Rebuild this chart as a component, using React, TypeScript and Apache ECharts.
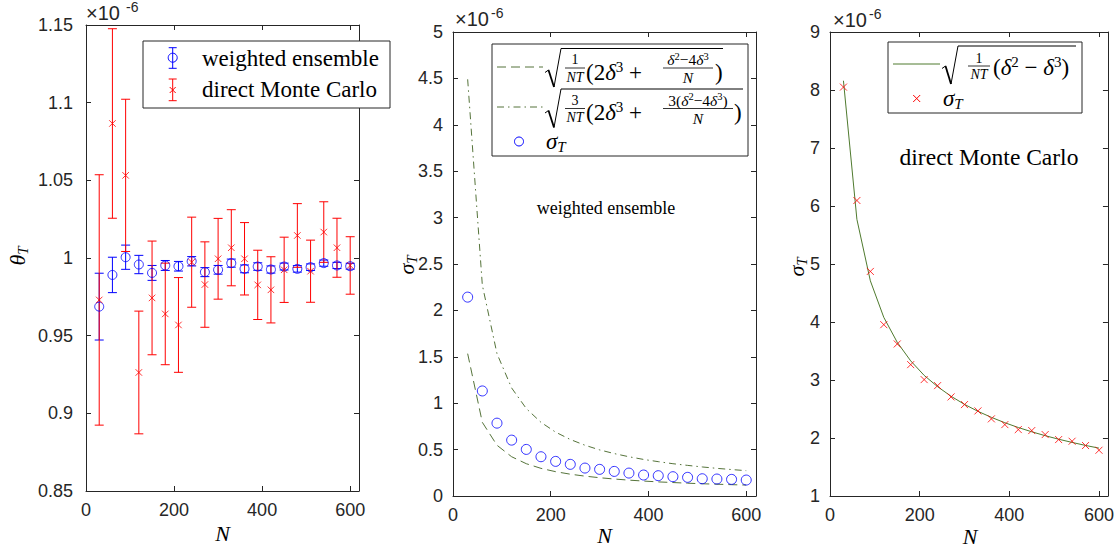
import React, { useEffect, useRef } from "react";
import * as echarts from "echarts";

// ---------- data (values shown in units of 1e-6) ----------
const N = [30, 60, 90, 120, 150, 180, 210, 240, 270, 300, 330, 360, 390, 420, 450, 480, 510, 540, 570, 600];
const xTicks = [0, 200, 400, 600];
const thetaTicks = [0.85, 0.9, 0.95, 1, 1.05, 1.1, 1.15];
const sigmaWETicks = [0, 0.5, 1, 1.5, 2, 2.5, 3, 3.5, 4, 4.5, 5];
const sigmaMCTicks = [1, 2, 3, 4, 5, 6, 7, 8, 9];

// left panel: theta_T estimates with error bars
const weMean = [0.9687, 0.9891, 1.0005, 0.9958, 0.9904, 0.9952, 0.9947, 0.9979, 0.9909, 0.9924, 0.9967, 0.993, 0.9945, 0.9926, 0.9945, 0.993, 0.9941, 0.9967, 0.9952, 0.9947];
const weErr = [0.0215, 0.0114, 0.0078, 0.0059, 0.0048, 0.0032, 0.0031, 0.003, 0.0029, 0.0028, 0.0026, 0.0025, 0.0024, 0.0023, 0.0022, 0.0021, 0.0021, 0.002, 0.002, 0.0019];
const mcMean = [0.973, 1.0866, 1.0532, 0.9263, 0.9743, 0.964, 0.9569, 0.9973, 0.9829, 0.9995, 1.0066, 0.9995, 0.9827, 0.9795, 0.9924, 1.0145, 0.9915, 1.0167, 1.0066, 0.9952];
const mcErr = [0.0806, 0.061, 0.049, 0.0395, 0.0366, 0.0327, 0.0305, 0.029, 0.0275, 0.026, 0.0245, 0.0233, 0.0223, 0.0213, 0.021, 0.0205, 0.02, 0.0195, 0.019, 0.0185];

// middle panel: weighted ensemble sigma_T and bounds
const weSigma = [2.143, 1.132, 0.785, 0.602, 0.502, 0.423, 0.373, 0.341, 0.301, 0.287, 0.265, 0.247, 0.226, 0.219, 0.208, 0.201, 0.186, 0.183, 0.179, 0.172];
const weLower = [1.534, 0.794, 0.547, 0.423, 0.348, 0.298, 0.262, 0.235, 0.214, 0.197, 0.183, 0.171, 0.161, 0.152, 0.145, 0.138, 0.132, 0.127, 0.122, 0.118];
const weUpper = [4.49, 2.273, 1.534, 1.164, 0.942, 0.794, 0.688, 0.609, 0.547, 0.497, 0.457, 0.423, 0.394, 0.37, 0.348, 0.33, 0.313, 0.298, 0.285, 0.273];

// right panel: direct Monte Carlo sigma_T and theory
const mcSigma = [8.05, 6.095, 4.872, 3.954, 3.621, 3.265, 3.007, 2.903, 2.708, 2.576, 2.467, 2.33, 2.231, 2.145, 2.128, 2.059, 1.973, 1.944, 1.87, 1.789];
const mcTheory = [8.16, 5.77, 4.71, 4.08, 3.65, 3.33, 3.08, 2.885, 2.72, 2.58, 2.46, 2.356, 2.263, 2.181, 2.107, 2.04, 1.979, 1.924, 1.872, 1.825];

// ---------- styles ----------
const AX = "#262626";
const SERIF = '"Liberation Serif", "Times New Roman", serif';
const SANS = '"Liberation Sans", Arial, Helvetica, sans-serif';
const BLUE = "#0000ff";
const RED = "#ff0000";
const GREEN_M = "#55733a";
const GREEN_R = "#4f7a2e";
const DASH = [9, 5];
const DASHDOT = [7, 4, 1.5, 4];
const SP = "\u00A0";

const fmt = (v: number) => String(parseFloat(v.toFixed(2)));

function xAxesFor(grid: number) {
  const base = {
    type: "value",
    gridIndex: grid,
    min: 0,
    max: 620,
    axisLine: { show: true, onZero: false, lineStyle: { color: AX, width: 1 } },
    axisTick: { show: true, inside: true, length: 5, customValues: xTicks, lineStyle: { color: AX, width: 1 } },
    splitLine: { show: false },
  };
  return [
    { ...base, position: "bottom", axisLabel: { show: true, customValues: xTicks, color: AX, fontSize: 18, fontFamily: SANS, margin: 10, formatter: fmt } },
    { ...base, position: "top", axisLabel: { show: false } },
  ];
}

function yAxesFor(grid: number, min: number, max: number, ticks: number[], margin: number) {
  const base = {
    type: "value",
    gridIndex: grid,
    min,
    max,
    axisLine: { show: true, onZero: false, lineStyle: { color: AX, width: 1 } },
    axisTick: { show: true, inside: true, length: 5, customValues: ticks, lineStyle: { color: AX, width: 1 } },
    splitLine: { show: false },
  };
  return [
    { ...base, position: "left", axisLabel: { show: true, customValues: ticks, color: AX, fontSize: 18, fontFamily: SANS, margin, formatter: fmt } },
    { ...base, position: "right", axisLabel: { show: false } },
  ];
}

function errorSeries(xi: number, yi: number, mean: number[], err: number[], color: string) {
  return {
    type: "custom",
    xAxisIndex: xi,
    yAxisIndex: yi,
    silent: true,
    z: 2,
    data: N.map((n, i) => [n, mean[i] - err[i], mean[i] + err[i]]),
    encode: { x: 0, y: [1, 2] },
    renderItem: (params: any, api: any) => {
      const x = api.value(0);
      const p1 = api.coord([x, api.value(2)]);
      const p2 = api.coord([x, api.value(1)]);
      const hw = 4.5;
      const st = { stroke: color, lineWidth: 1 };
      return {
        type: "group",
        children: [
          { type: "line", shape: { x1: p1[0], y1: p1[1], x2: p2[0], y2: p2[1] }, style: st },
          { type: "line", shape: { x1: p1[0] - hw, y1: p1[1], x2: p1[0] + hw, y2: p1[1] }, style: st },
          { type: "line", shape: { x1: p2[0] - hw, y1: p2[1], x2: p2[0] + hw, y2: p2[1] }, style: st },
        ],
      };
    },
  };
}

const X_SYMBOL = "path://M0,0L10,10M10,0L0,10";

function buildGraphic() {
  const G: any[] = [];
  const T = (x: number, y: number, text: string, size: number, o: any = {}) =>
    G.push({
      type: "text",
      x,
      y,
      rotation: o.rot || 0,
      z: 101,
      silent: true,
      style: {
        text,
        fontSize: size,
        fontFamily: o.fam || SERIF,
        fontStyle: o.it ? "italic" : "normal",
        fill: o.fill || "#000",
        align: o.al || "left",
        textAlign: o.al || "left",
        verticalAlign: "middle",
        textVerticalAlign: "middle",
        rich: o.rich,
      },
    });
  const L = (x1: number, y1: number, x2: number, y2: number, stroke = "#000", lw = 1, dash?: number[]) =>
    G.push({ type: "line", z: 101, silent: true, shape: { x1, y1, x2, y2 }, style: { stroke, lineWidth: lw, lineDash: dash } });
  const R = (x: number, y: number, w: number, h: number) =>
    G.push({ type: "rect", z: 100, silent: true, shape: { x, y, width: w, height: h }, style: { fill: "#fff", stroke: AX, lineWidth: 1 } });
  const C = (cx: number, cy: number, r: number, stroke: string) =>
    G.push({ type: "circle", z: 101, silent: true, shape: { cx, cy, r }, style: { fill: null, stroke, lineWidth: 1 } });
  const Xm = (cx: number, cy: number, h: number, stroke: string) => {
    L(cx - h, cy - h, cx + h, cy + h, stroke);
    L(cx - h, cy + h, cx + h, cy - h, stroke);
  };
  // radical sign: hook, thick descending stroke, thin rising stroke, vinculum
  const SQRT = (x0: number, yMid: number, yBot: number, xTop: number, yTop: number, xEnd: number) => {
    L(x0, yMid + 1.5, x0 + 3.5, yMid - 1, "#000", 1);
    L(x0 + 3.5, yMid - 1, x0 + 9, yBot, "#000", 1.8);
    L(x0 + 9, yBot, xTop, yTop, "#000", 1);
    L(xTop, yTop, xEnd, yTop, "#000", 1);
  };

  const richMain = {
    r: { fontSize: 23, fontFamily: SERIF, lineHeight: 26 },
    i: { fontSize: 23, fontFamily: SERIF, fontStyle: "italic", lineHeight: 26 },
    s: { fontSize: 15, fontFamily: SERIF, verticalAlign: "top", lineHeight: 11 },
    b: { fontSize: 15, fontFamily: SERIF, fontStyle: "italic", verticalAlign: "bottom", lineHeight: 11 },
  };
  const richSmall = {
    r: { fontSize: 15.5, fontFamily: SERIF, lineHeight: 18 },
    i: { fontSize: 15.5, fontFamily: SERIF, fontStyle: "italic", lineHeight: 18 },
    s: { fontSize: 10.5, fontFamily: SERIF, verticalAlign: "top", lineHeight: 9 },
  };
  const richTitle = {
    i: { fontSize: 22, fontFamily: SERIF, fontStyle: "italic", lineHeight: 26 },
    b: { fontSize: 15, fontFamily: SERIF, fontStyle: "italic", verticalAlign: "bottom", lineHeight: 12 },
  };

  // ---- exponent labels ----
  T(86, 13, "×10", 20, { fam: SANS, fill: AX });
  T(126, 7, "-6", 14, { fam: SANS, fill: AX });
  T(455, 19, "×10", 20, { fam: SANS, fill: AX });
  T(491, 13, "-6", 14, { fam: SANS, fill: AX });
  T(833, 20, "×10", 20, { fam: SANS, fill: AX });
  T(869, 14, "-6", 14, { fam: SANS, fill: AX });

  // ---- axis titles ----
  T(222.5, 533, "N", 22, { it: true, al: "center" });
  T(604.5, 535, "N", 22, { it: true, al: "center" });
  T(970, 536, "N", 22, { it: true, al: "center" });
  T(17, 256, "{i|θ}{b|T}", 22, { al: "center", rot: Math.PI / 2, rich: richTitle });
  T(406, 265, "{i|σ}{b|T}", 22, { al: "center", rot: Math.PI / 2, rich: richTitle });
  T(796, 267, "{i|σ}{b|T}", 22, { al: "center", rot: Math.PI / 2, rich: richTitle });

  // ---- panel annotations ----
  T(606, 208, "weighted ensemble", 18, { al: "center" });
  T(989, 157, "direct Monte Carlo", 23.5, { al: "center" });

  // ---- left legend ----
  R(143, 41, 247, 67);
  L(172.7, 47.7, 172.7, 68.3, BLUE);
  L(168.7, 47.7, 176.7, 47.7, BLUE);
  L(168.7, 68.3, 176.7, 68.3, BLUE);
  C(172.7, 57.7, 4.5, BLUE);
  T(202, 58, "weighted ensemble", 23);
  L(172.7, 79, 172.7, 100.7, RED);
  L(168.7, 79, 176.7, 79, RED);
  L(168.7, 100.7, 176.7, 100.7, RED);
  Xm(172.7, 90, 3, RED);
  T(202, 89, "direct Monte Carlo", 23);

  // ---- middle legend ----
  R(492, 44, 256, 112);
  // row 1
  L(497, 67, 543, 67, GREEN_M, 1, DASH);
  SQRT(545, 71, 87, 561, 48.5, 723);
  T(575, 59.5, "1", 14, { al: "center" });
  L(565, 68, 585, 68, "#000", 0.8);
  T(575, 77, "NT", 14, { al: "center", it: true });
  T(586, 72, `{r|(2}{i|δ}{s|3}{r|${SP}+${SP}}`, 23, { rich: richMain });
  T(688, 59.5, "{i|δ}{s|2}{r|−4}{i|δ}{s|3}", 15.5, { al: "center", rich: richSmall });
  L(663, 68, 713, 68, "#000", 0.8);
  T(688, 77.5, "N", 15.5, { al: "center", it: true });
  T(715, 72, ")", 23);
  // row 2
  L(497, 107, 543, 107, GREEN_M, 1, DASHDOT);
  SQRT(545, 111.5, 127.5, 561, 89, 743);
  T(575, 100, "3", 14, { al: "center" });
  L(565, 108.5, 585, 108.5, "#000", 0.8);
  T(575, 117.5, "NT", 14, { al: "center", it: true });
  T(586, 112.5, `{r|(2}{i|δ}{s|3}{r|${SP}+${SP}}`, 23, { rich: richMain });
  T(698, 100, "{r|3(}{i|δ}{s|2}{r|−4}{i|δ}{s|3}{r|)}", 15.5, { al: "center", rich: richSmall });
  L(663, 108.5, 733, 108.5, "#000", 0.8);
  T(698, 118, "N", 15.5, { al: "center", it: true });
  T(734, 112.5, ")", 23);
  // row 3
  C(519, 141.5, 4.5, BLUE);
  T(546, 141, "{i|σ}{b|T}", 23, { rich: richMain });

  // ---- right legend ----
  R(888, 42, 194, 71);
  L(893, 64, 940, 64, GREEN_R, 1);
  SQRT(942, 67, 84, 958, 46, 1076);
  T(979, 58, "1", 14, { al: "center" });
  L(968, 66, 990, 66, "#000", 0.8);
  T(979, 74.5, "NT", 14, { al: "center", it: true });
  T(993, 67.5, `{r|(}{i|δ}{s|2}{r|${SP}−${SP}}{i|δ}{s|3}{r|)}`, 23, { rich: richMain });
  Xm(916.7, 98.5, 3.5, RED);
  T(943, 98, "{i|σ}{b|T}", 23, { rich: richMain });

  return G;
}

function buildOption() {
  return {
    animation: false,
    backgroundColor: "#ffffff",
    grid: [
      { left: 86, top: 25, width: 273, height: 466 },
      { left: 453, top: 32, width: 303, height: 464 },
      { left: 830, top: 32, width: 280, height: 464 },
    ],
    xAxis: [...xAxesFor(0), ...xAxesFor(1), ...xAxesFor(2)],
    yAxis: [
      ...yAxesFor(0, 0.85, 1.15, thetaTicks, 13),
      ...yAxesFor(1, 0, 5, sigmaWETicks, 10),
      ...yAxesFor(2, 1, 9, sigmaMCTicks, 10),
    ],
    series: [
      // left panel
      errorSeries(0, 0, weMean, weErr, BLUE),
      {
        type: "scatter",
        xAxisIndex: 0,
        yAxisIndex: 0,
        silent: true,
        z: 3,
        symbol: "circle",
        symbolSize: 9,
        itemStyle: { color: "rgba(0,0,0,0)", borderColor: BLUE, borderWidth: 1 },
        data: N.map((n, i) => [n, weMean[i]]),
      },
      errorSeries(0, 0, mcMean, mcErr, RED),
      {
        type: "scatter",
        xAxisIndex: 0,
        yAxisIndex: 0,
        silent: true,
        z: 4,
        symbol: X_SYMBOL,
        symbolSize: 6.5,
        itemStyle: { color: "rgba(0,0,0,0)", borderColor: RED, borderWidth: 1 },
        data: N.map((n, i) => [n, mcMean[i]]),
      },
      // middle panel
      {
        type: "line",
        xAxisIndex: 2,
        yAxisIndex: 2,
        silent: true,
        showSymbol: false,
        lineStyle: { color: GREEN_M, width: 1, type: DASH },
        data: N.map((n, i) => [n, weLower[i]]),
      },
      {
        type: "line",
        xAxisIndex: 2,
        yAxisIndex: 2,
        silent: true,
        showSymbol: false,
        lineStyle: { color: GREEN_M, width: 1, type: DASHDOT },
        data: N.map((n, i) => [n, weUpper[i]]),
      },
      {
        type: "scatter",
        xAxisIndex: 2,
        yAxisIndex: 2,
        silent: true,
        z: 3,
        symbol: "circle",
        symbolSize: 10,
        itemStyle: { color: "rgba(0,0,0,0)", borderColor: BLUE, borderWidth: 1 },
        data: N.map((n, i) => [n, weSigma[i]]),
      },
      // right panel
      {
        type: "line",
        xAxisIndex: 4,
        yAxisIndex: 4,
        silent: true,
        showSymbol: false,
        lineStyle: { color: GREEN_R, width: 1 },
        data: N.map((n, i) => [n, mcTheory[i]]),
      },
      {
        type: "scatter",
        xAxisIndex: 4,
        yAxisIndex: 4,
        silent: true,
        z: 3,
        symbol: X_SYMBOL,
        symbolSize: 7,
        itemStyle: { color: "rgba(0,0,0,0)", borderColor: RED, borderWidth: 1 },
        data: N.map((n, i) => [n, mcSigma[i]]),
      },
    ],
    graphic: { elements: buildGraphic() },
  };
}

export default function App() {
  const ref = useRef<HTMLDivElement | null>(null);
  useEffect(() => {
    if (!ref.current) return;
    const chart = echarts.init(ref.current, undefined, { renderer: "svg" });
    chart.setOption(buildOption() as any);
    return () => chart.dispose();
  }, []);
  return (
    <div
      ref={ref}
      style={{ position: "absolute", left: 0, top: 0, width: 1117, height: 554, background: "#fff" }}
    />
  );
}
